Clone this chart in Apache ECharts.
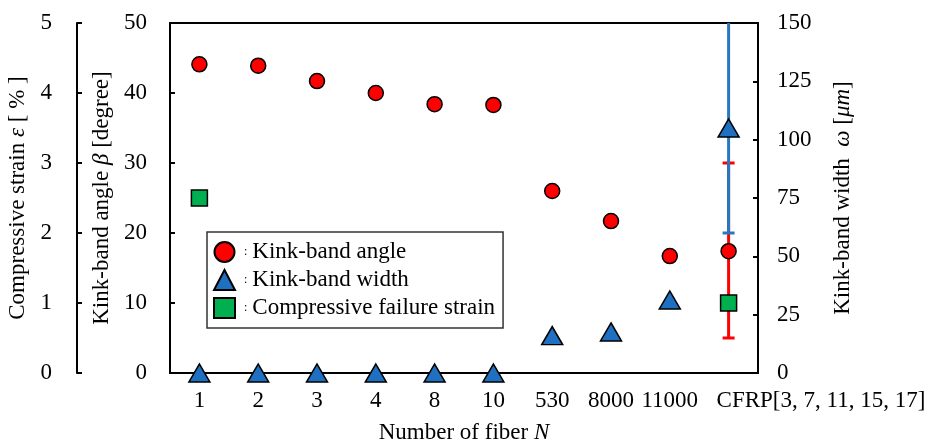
<!DOCTYPE html>
<html>
<head>
<meta charset="utf-8">
<script src="https://cdn.jsdelivr.net/npm/echarts@6/dist/echarts.min.js"></script>
<style>
  html, body { margin: 0; padding: 0; background: #fff; }
  #chart { width: 941px; height: 448px; }
</style>
</head>
<body>
<div id="chart"></div>
<script>
// categories: number of fibers
var fiberCounts = ['1', '2', '3', '4', '8', '10', '530', '8000', '11000', 'CFRP[3, 7, 11, 15, 17]'];

// kink-band angle beta [degree]
var kinkAngle = [44.1, 43.9, 41.7, 40.0, 38.4, 38.3, 26.0, 21.7, 16.7, 17.4];
// kink-band width omega [um]
var kinkWidth = [0, 0, 0, 0, 0, 0, 16, 17.6, 31.3, 105];
// compressive failure strain [%]
var failStrain = [2.5, '-', '-', '-', '-', '-', '-', '-', '-', 1.0];

// error bars for CFRP: [category index, low, high]
var angleError = [[9, 5, 30]];
var widthError = [[9, 60, 150]];

var FONT = '"Liberation Serif", "DejaVu Serif", serif';
var FS = 23;
var chart = echarts.init(document.getElementById('chart'));

function errorBar(color, axisMax) {
  return function (params, api) {
    var x = api.value(0);
    var lo = api.coord([x, api.value(1)]);
    var hi = api.coord([x, api.value(2)]);
    var w = 6;
    var style = { stroke: color, lineWidth: 3 };
    var kids = [
      { type: 'line', shape: { x1: lo[0], y1: lo[1], x2: hi[0], y2: hi[1] }, style: style },
      { type: 'line', shape: { x1: lo[0] - w, y1: lo[1], x2: lo[0] + w, y2: lo[1] }, style: style }
    ];
    if (api.value(2) < axisMax) {
      kids.push({ type: 'line', shape: { x1: hi[0] - w, y1: hi[1], x2: hi[0] + w, y2: hi[1] }, style: style });
    }
    return { type: 'group', children: kids };
  };
}

var axisLabelStyle = { color: '#000', fontFamily: FONT, fontSize: FS };
var nameStyle = {
  color: '#000', fontFamily: FONT, fontSize: FS,
  rich: { i: { fontStyle: 'italic', fontFamily: FONT, fontSize: FS, color: '#000' } }
};

// last category label starts just left of its tick, as in the source
var xData = fiberCounts.map(function (c, i) {
  if (i === fiberCounts.length - 1) {
    return { value: c, textStyle: { align: 'left', padding: [0, 0, 0, -12] } };
  }
  return c;
});

chart.setOption({
  animation: false,
  textStyle: { fontFamily: FONT },
  grid: {
    left: 170, right: 183, top: 23, bottom: 75,
    outerBoundsMode: 'none', containLabel: false,
    show: true, borderColor: '#000', borderWidth: 2
  },
  legend: {
    data: ['Kink-band angle', 'Kink-band width', 'Compressive failure strain'],
    orient: 'vertical',
    left: 207, top: 232,
    padding: [7, 8, 7, 6],
    borderColor: '#333', borderWidth: 1.5,
    itemWidth: 21, itemHeight: 20, itemGap: 2,
    formatter: function (name) { return '{c|:}' + name; },
    textStyle: {
      color: '#000', fontFamily: FONT, fontSize: FS, lineHeight: 26,
      rich: { c: { fontSize: 12, color: '#000', padding: [0, 5, 0, 4], fontFamily: FONT } }
    }
  },
  xAxis: {
    type: 'category',
    data: xData,
    name: 'Number of fiber {i|N}',
    nameLocation: 'middle',
    nameGap: 48,
    nameTextStyle: nameStyle,
    axisLine: { lineStyle: { color: '#000', width: 2 } },
    axisTick: { inside: true, alignWithLabel: true, length: 5, lineStyle: { color: '#000', width: 1.5 } },
    axisLabel: { color: '#000', fontFamily: FONT, fontSize: FS, margin: 16, interval: 0, hideOverlap: false },
    splitLine: { show: false }
  },
  yAxis: [
    {
      type: 'value', position: 'left', offset: 93,
      min: 0, max: 5, interval: 1,
      name: 'Compressive strain {i|ε} [ % ]',
      nameLocation: 'middle', nameRotate: 90, nameGap: 43,
      nameTextStyle: nameStyle,
      axisLine: { show: true, lineStyle: { color: '#000', width: 2 } },
      axisTick: { show: true, inside: true, length: 5, lineStyle: { color: '#000', width: 2 } },
      axisLabel: Object.assign({ margin: 25 }, axisLabelStyle),
      splitLine: { show: false }
    },
    {
      type: 'value', position: 'left',
      min: 0, max: 50, interval: 10,
      name: 'Kink-band angle {i|β} [degree]',
      nameLocation: 'middle', nameRotate: 90, nameGap: 51,
      nameTextStyle: nameStyle,
      axisLine: { show: true, lineStyle: { color: '#000', width: 2 } },
      axisTick: { show: true, inside: true, length: 5, lineStyle: { color: '#000', width: 2 } },
      axisLabel: Object.assign({ margin: 23 }, axisLabelStyle),
      splitLine: { show: false }
    },
    {
      type: 'value', position: 'right',
      min: 0, max: 150, interval: 25,
      name: 'Kink-band width  {i|ω} [{i|μm}]',
      nameLocation: 'middle', nameRotate: 90, nameGap: 73,
      nameTextStyle: nameStyle,
      axisLine: { show: true, lineStyle: { color: '#000', width: 2 } },
      axisTick: { show: true, inside: true, length: 5, lineStyle: { color: '#000', width: 2 } },
      axisLabel: Object.assign({ margin: 19 }, axisLabelStyle),
      splitLine: { show: false }
    }
  ],
  series: [
    {
      name: 'angleError', type: 'custom', yAxisIndex: 1, z: 3,
      renderItem: errorBar('#ff0000', 50), data: angleError
    },
    {
      name: 'widthError', type: 'custom', yAxisIndex: 2, z: 4,
      renderItem: errorBar('#2878c0', 150), data: widthError
    },
    {
      name: 'Kink-band angle', type: 'scatter', yAxisIndex: 1, z: 10, clip: false,
      symbol: 'circle', symbolSize: 15,
      itemStyle: { color: '#ff0000', borderColor: '#000', borderWidth: 1.5, opacity: 1 },
      data: kinkAngle
    },
    {
      name: 'Kink-band width', type: 'scatter', yAxisIndex: 2, z: 10, clip: false,
      symbol: 'triangle', symbolSize: [21, 18],
      itemStyle: { color: '#1f70c1', borderColor: '#000', borderWidth: 1.5, opacity: 1 },
      data: kinkWidth
    },
    {
      name: 'Compressive failure strain', type: 'scatter', yAxisIndex: 0, z: 10, clip: false,
      symbol: 'rect', symbolSize: 16,
      itemStyle: { color: '#00b050', borderColor: '#000', borderWidth: 1.5, opacity: 1 },
      data: failStrain
    }
  ]
});
</script>
</body>
</html>
